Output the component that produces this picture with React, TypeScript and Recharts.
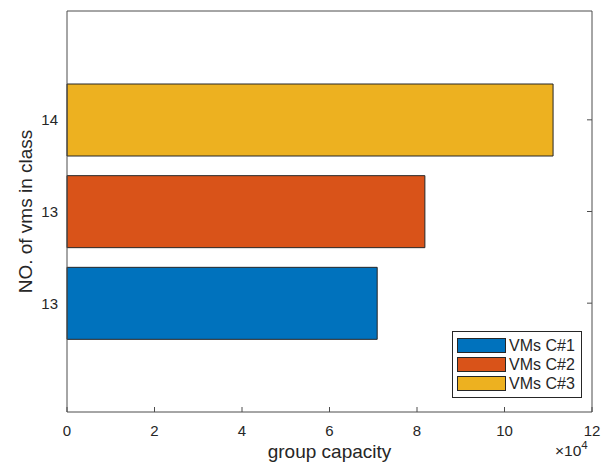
import { Bar, BarChart, XAxis, YAxis } from "recharts";

// VM classes, bottom to top on the chart
const seriesNames = ["VMs C#1", "VMs C#2", "VMs C#3"];
const vmCounts = ["13", "13", "14"];
const capacities = [70900, 81800, 111100];
const seriesColors = ["#0072BD", "#D95319", "#EDB120"];

const xTicks = [0, 20000, 40000, 60000, 80000, 100000, 120000];

const FONT = "'Liberation Sans', Arial, Helvetica, sans-serif";
const TEXT = "#262626";
const AXIS = "#4d4d4d";
const TICK_LEN = 5;

// one row per class; each row carries only its own series so the stack acts like coloured single bars
const data = vmCounts.map((count, i) => {
  const row: Record<string, number | string> = { id: `r${i}`, count };
  seriesNames.forEach((_, j) => {
    row[`s${j}`] = i === j ? capacities[j] : 0;
  });
  return row;
});

function BottomTick(props: any) {
  const { x, y, payload } = props;
  const axisY = y - 13;
  return (
    <g>
      <line x1={x} y1={axisY} x2={x} y2={axisY - TICK_LEN} stroke={AXIS} />
      <text x={x} y={y} dy="0.71em" textAnchor="middle" fill={TEXT} fontSize={15} fontFamily={FONT}>
        {payload.value / 10000}
      </text>
    </g>
  );
}

function TopTick(props: any) {
  const { x, y } = props;
  return <line x1={x} y1={y} x2={x} y2={y + TICK_LEN} stroke={AXIS} />;
}

function LeftTick(props: any) {
  const { x, y, payload } = props;
  return (
    <text x={x} y={y} dy="0.36em" textAnchor="end" fill={TEXT} fontSize={15} fontFamily={FONT}>
      {vmCounts[payload.index] ?? ""}
    </text>
  );
}

function RightTick(props: any) {
  const { x, y } = props;
  return <line x1={x} y1={y} x2={x - TICK_LEN} y2={y} stroke={AXIS} />;
}

function XLabel(props: any) {
  const { x, y, width } = props.viewBox;
  return (
    <g fontFamily={FONT} fill={TEXT}>
      <text x={x + width / 2} y={y + 46} textAnchor="middle" fontSize={19}>
        group capacity
      </text>
      <text x={x + width - 37} y={y + 44} fontSize={15.5}>
        ×10
        <tspan dy={-7} fontSize={11.5}>
          4
        </tspan>
      </text>
    </g>
  );
}

function YLabel(props: any) {
  const { y, height } = props.viewBox;
  const cx = 32;
  const cy = y + height / 2;
  return (
    <text
      x={cx}
      y={cy}
      transform={`rotate(-90 ${cx} ${cy})`}
      textAnchor="middle"
      fill={TEXT}
      fontSize={19}
      fontFamily={FONT}
    >
      NO. of vms in class
    </text>
  );
}

function LegendBox() {
  return (
    <div
      style={{
        position: "absolute",
        left: 452,
        top: 331,
        border: `1px solid ${TEXT}`,
        background: "#fff",
        padding: "4px 6px 4px 4px",
        fontFamily: FONT,
        fontSize: 16,
        color: TEXT,
        lineHeight: "19px",
      }}
    >
      {seriesNames.map((name, i) => (
        <div key={name} style={{ display: "flex", alignItems: "center" }}>
          <span
            style={{
              display: "inline-block",
              width: 47,
              height: 13,
              background: seriesColors[i],
              border: `1px solid ${TEXT}`,
              marginRight: 3,
            }}
          />
          {name}
        </div>
      ))}
    </div>
  );
}

export default function App() {
  return (
    <div style={{ position: "absolute", left: 0, top: 0, width: 612, height: 464, background: "#fff" }}>
      <BarChart
        width={612}
        height={464}
        data={data}
        layout="vertical"
        margin={{ top: 10, right: 19, bottom: 0, left: 0 }}
      >
        <XAxis
          type="number"
          domain={[0, 120000]}
          ticks={xTicks}
          height={52}
          stroke={AXIS}
          tickLine={false}
          tickSize={0}
          tickMargin={13}
          tick={<BottomTick />}
          interval={0}
          label={<XLabel />}
        />
        <XAxis
          xAxisId="top"
          orientation="top"
          type="number"
          domain={[0, 120000]}
          ticks={xTicks}
          height={1}
          stroke={AXIS}
          tickLine={false}
          tickSize={0}
          tickMargin={0}
          tick={<TopTick />}
          interval={0}
        />
        <YAxis
          type="category"
          dataKey="id"
          reversed
          width={67}
          padding={{ top: 63, bottom: 63 }}
          stroke={AXIS}
          tickLine={false}
          tickSize={0}
          tickMargin={9}
          tick={<LeftTick />}
          label={<YLabel />}
        />
        <YAxis
          yAxisId="right"
          orientation="right"
          type="category"
          dataKey="id"
          reversed
          width={1}
          padding={{ top: 63, bottom: 63 }}
          stroke={AXIS}
          tickLine={false}
          tickSize={0}
          tickMargin={0}
          tick={<RightTick />}
        />
        {seriesNames.map((name, j) => (
          <Bar
            key={name}
            name={name}
            dataKey={`s${j}`}
            stackId="vm"
            fill={seriesColors[j]}
            stroke="#262626"
            strokeWidth={1}
            barSize={72}
            isAnimationActive={false}
          />
        ))}
      </BarChart>
      <LegendBox />
    </div>
  );
}
